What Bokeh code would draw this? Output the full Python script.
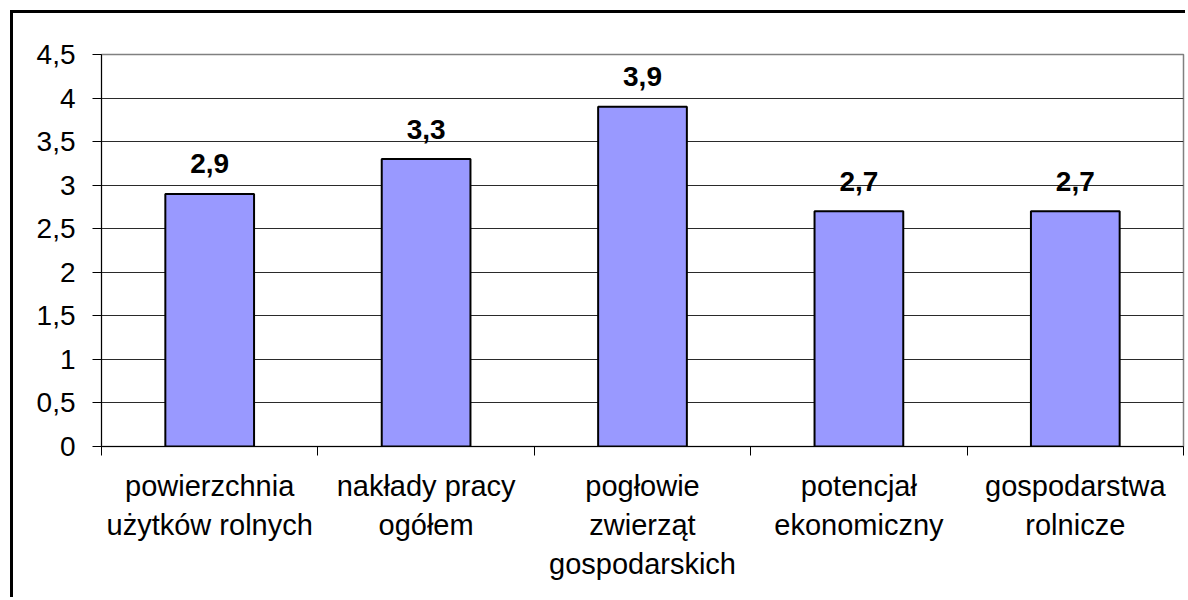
from bokeh.plotting import figure
from bokeh.models import (ColumnDataSource, FixedTicker, CustomJSTickFormatter, Range1d)
from bokeh.core.properties import value
from bokeh.embed import file_html
from bokeh.resources import INLINE

categories = ["powierzchnia\nużytków rolnych", "nakłady pracy\nogółem",
              "pogłowie\nzwierząt\ngospodarskich", "potencjał\nekonomiczny",
              "gospodarstwa\nrolnicze"]
values = [2.9, 3.3, 3.9, 2.7, 2.7]
value_labels = ["2,9", "3,3", "3,9", "2,7", "2,7"]
y_ticks = [0, 0.5, 1, 1.5, 2, 2.5, 3, 3.5, 4, 4.5]

FONT = "Liberation Sans"

xs = [i + 0.5 for i in range(len(categories))]
src = ColumnDataSource(dict(x=xs, top=values, lab=value_labels))

p = figure(width=1175, height=587, output_backend="svg", toolbar_location=None,
           x_range=Range1d(0, len(categories)), y_range=Range1d(0, 4.5),
           min_border_left=88, min_border_right=5, min_border_top=41,
           min_border_bottom=154)
p.styles = {"margin-left": "10px", "margin-top": "10px",
            "border-left": "3px solid black", "border-top": "3px solid black"}
p.background_fill_color = "white"
p.border_fill_color = "white"
p.outline_line_color = "#808080"
p.outline_line_width = 1.5

# grid
p.xgrid.grid_line_color = None
p.ygrid.grid_line_color = "#2a2a2a"
p.ygrid.grid_line_width = 1
p.ygrid.ticker = FixedTicker(ticks=y_ticks[:-1])

# bars
p.vbar(x="x", top="top", width=0.41, bottom=0, source=src,
       fill_color="#9999FF", line_color="black", line_width=2)

# value labels
p.text(x="x", y="top", text="lab", source=src, y_offset=-30,
       text_align="center", text_baseline="middle",
       text_font=value(FONT), text_font_style="bold", text_font_size="28px",
       text_color="black")

# y axis
ya = p.yaxis[0]
ya.ticker = FixedTicker(ticks=y_ticks)
ya.formatter = CustomJSTickFormatter(code="return tick.toString().replace('.', ',');")
ya.major_label_text_font = FONT
ya.major_label_text_font_size = "28px"
ya.major_label_text_color = "black"
ya.major_tick_out = 9
ya.major_tick_in = 0
ya.minor_tick_out = 0
ya.minor_tick_in = 0
ya.axis_line_color = "black"
ya.major_tick_line_color = "black"
ya.major_label_standoff = 17

# x axis
xa = p.xaxis[0]
xa.ticker = FixedTicker(ticks=xs, minor_ticks=list(range(len(categories) + 1)))
xa.major_label_overrides = {x: c for x, c in zip(xs, categories)}
xa.major_label_text_font = FONT
xa.major_label_text_font_size = "29px"
xa.major_label_text_color = "black"
xa.major_label_text_line_height = 1.22
xa.major_tick_out = 0
xa.major_tick_in = 0
xa.minor_tick_out = 9
xa.minor_tick_in = 0
xa.minor_tick_line_color = "black"
xa.axis_line_color = "black"
xa.major_label_standoff = 14

open("out.html", "w").write(file_html(p, INLINE))
